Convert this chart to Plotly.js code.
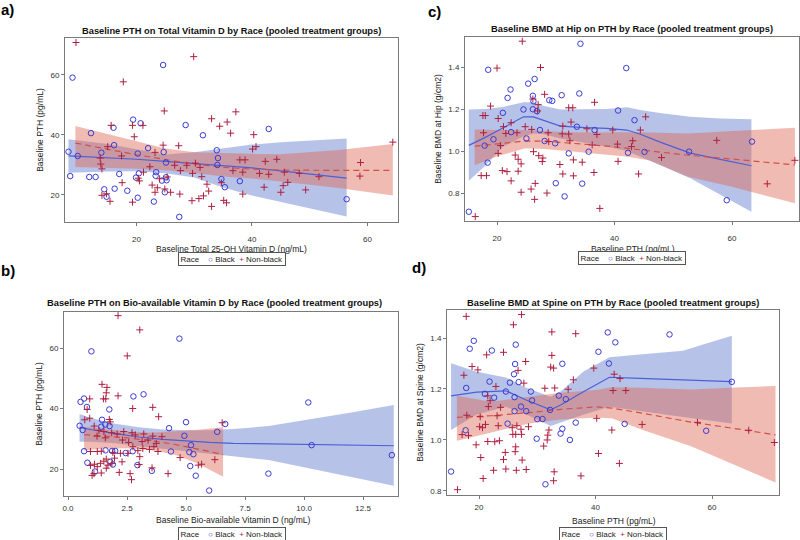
<!DOCTYPE html>
<html><head><meta charset="utf-8">
<script src="https://cdn.plot.ly/plotly-3.0.1.min.js"></script>
<style>html,body{margin:0;padding:0;background:#fff}#chart{width:800px;height:540px}</style>
</head><body><div id="chart"></div>
<script>
// ---------- Panel a: PTH vs Total 25-OH Vitamin D ----------
const aBlackX = [8.2,8.9,8.5,9.8,12.1,11.8,12.9,13.9,14.4,14.8,16.0,16.1,16.2,17.0,18.4,19.4,19.9,20.2,20.2,20.4,20.7,22.0,23.0,23.3,23.4,24.4,24.6,24.7,24.9,25.1,25.1,25.2,27.4,28.5,31.5,33.9,34.1,34.0,34.7,35.3,37.9,42.9,56.4];
const aBlackY = [34.4,59.1,26.3,33.0,40.6,26.0,26.0,34.1,21.9,19.4,42.4,36.6,22.1,27.0,21.4,45.1,25.8,19.1,33.8,27.2,43.9,35.6,17.8,26.4,27.6,24.8,63.3,34.3,20.9,30.8,25.9,24.9,12.7,43.3,39.9,34.9,32.3,30.0,25.3,22.6,24.6,42.0,18.6];
const aNonX = [9.5,17.7,29.9,24.8,37.2,33.0,35.7,15.6,19.3,21.1,34.4,36.3,19.6,40.3,40.7,24.6,27.3,15.0,23.2,17.4,28.7,31.0,30.2,37.9,38.8,42.3,44.3,40.1,13.8,14.0,21.2,26.6,27.6,29.7,31.3,36.7,38.4,41.3,42.9,45.6,48.2,51.6,58.8,58.7,64.4,17.5,20.5,22.7,23.2,24.9,25.9,27.5,29.6,30.8,31.6,32.2,32.5,33.0,35.1,35.6,38.4,34.7,42.1,45.0,45.4,46.2,49.3,14.0,14.8,15.4,19.3,22.3,24.0,25.3,23.6,20.3,13.7];
const aNonY = [70.8,57.7,66.1,48.0,47.7,45.4,44.3,43.2,43.2,43.2,42.9,40.6,39.4,40.1,36.1,36.6,36.4,36.1,34.2,33.0,29.9,29.2,30.6,31.7,31.7,31.2,31.9,35.3,30.3,28.7,27.6,29.9,28.1,27.2,26.1,28.1,27.6,27.2,26.9,27.6,27.2,26.1,30.8,26.3,37.6,24.1,24.7,23.3,20.9,22.0,20.9,20.3,18.1,18.8,19.7,23.6,21.3,16.2,18.2,17.4,20.3,24.1,22.6,20.9,23.1,24.2,21.7,19.9,20.4,17.9,17.6,29.4,25.4,26.0,22.4,25.6,32.3];
const aBlackFitX = [8.2,15,20,25,30,35,40,45,50,56.4];
const aBlackFit  = [33.0,32.5,31.9,31.2,30.5,29.9,29.0,28.0,26.9,25.6];
const aBlackUp   = [38.6,37.0,35.2,33.5,34.2,35.5,36.8,37.6,38.2,38.8];
const aBlackLo   = [27.4,27.8,27.9,27.2,25.8,22.5,19.8,17.7,15.5,12.8];
const aNonFitX = [9.4,15,20,25,30,35,40,45,50,55,64.4];
const aNonFit  = [37.3,35.2,33.4,31.8,30.3,29.2,28.6,28.3,28.2,28.2,28.2];
const aNonUp   = [43.0,40.3,37.8,35.5,34.2,33.9,33.7,33.6,34.2,35.0,37.0];
const aNonLo   = [29.3,29.0,28.7,28.2,27.3,26.2,25.5,24.5,23.5,22.3,19.8];

// ---------- Panel b: PTH vs Bio-available Vitamin D ----------
const bBlackX = [0.49,0.53,0.62,0.68,0.68,0.80,0.82,0.99,1.14,1.44,1.41,1.58,1.76,1.75,1.59,1.87,2.0,1.79,1.90,2.44,2.74,2.77,3.20,2.94,3.55,4.28,4.36,5.0,4.72,5.14,5.18,5.31,5.41,5.98,4.93,5.21,6.32,6.66,8.49,10.18,10.32,13.72];
const bBlackY = [34.3,42.2,32.9,43.3,25.9,40.5,22.1,58.9,19.2,36.3,34.0,34.7,34.2,39.7,26.2,26.0,26.0,22.4,21.5,25.3,25.9,44.0,44.7,21.3,19.4,33.5,25.8,35.5,63.1,25.6,21.0,24.9,17.8,12.9,31.0,27.9,32.3,34.9,18.5,42.0,27.9,24.6];
const bNonX = [2.12,3.04,2.51,1.44,1.65,1.62,1.5,1.6,0.92,2.12,0.81,2.74,3.59,3.84,1.75,1.79,0.92,0.71,6.53,1.11,1.31,1.52,1.85,2.08,2.36,2.71,2.85,3.21,3.59,3.98,3.39,3.14,3.74,1.23,1.58,2.31,2.57,0.95,1.24,1.41,1.90,1.62,1.97,2.22,2.54,2.75,2.96,3.17,3.45,3.64,3.81,0.95,1.12,1.24,1.38,1.52,1.02,1.41,1.10,1.62,1.69,2.17,2.63,2.69,3.04,3.01,3.56,4.24,4.75,5.52,5.66,6.22,2.29,1.86];
const bNonY = [70.7,66.0,57.4,48.0,47.0,45.2,43.2,43.2,43.2,44.2,39.7,40.0,40.4,37.3,36.4,35.6,36.8,36.3,35.3,34.2,32.8,32.4,32.0,31.6,32.4,32.0,31.3,31.6,30.9,30.7,29.6,29.1,28.5,30.9,30.3,29.6,28.8,25.8,25.8,25.9,25.5,23.3,23.6,25.2,25.2,27.4,26.1,26.8,26.5,27.4,25.8,21.2,21.6,20.8,21.9,22.6,17.9,18.7,18.5,20.3,21.3,18.9,18.5,16.5,24.1,21.5,20.4,18.5,23.8,21.3,21.6,23.1,22.4,21.8];
const bBlackFitX = [0.49,1,2,3,4,5,6,7,8.5,10.2,12,13.8];
const bBlackFit  = [33.8,33.0,31.7,30.6,29.8,29.2,28.8,28.5,28.3,28.1,27.9,27.7];
const bBlackUp   = [38.2,36.8,35.0,33.8,33.1,32.8,32.8,33.2,34.2,36.3,38.7,41.2];
const bBlackLo   = [29.0,29.0,28.5,27.5,26.5,25.7,25.0,24.2,23.0,20.2,17.4,14.5];
const bNonFitX = [0.68,1.5,2.5,3.5,4.5,5.5,6.57];
const bNonFit  = [31.4,31.0,30.3,29.4,28.2,26.6,24.8];
const bNonUp   = [34.0,33.3,32.4,32.0,32.4,33.0,33.8];
const bNonLo   = [26.1,26.8,26.9,26.3,24.8,21.8,17.5];

// ---------- Panel c: BMD at Hip vs PTH ----------
const cBlackX = [15.2,18.5,17.9,18.4,19.4,22.3,21.8,21.0,22.4,24.5,25.3,25.0,26.1,26.1,26.4,26.2,26.8,27.3,28.9,29.4,28.1,30.0,29.9,31.0,31.5,32.2,33.6,34.0,34.2,34.5,35.6,36.6,40.6,42.0,42.3,43.4,45.1,52.7,59.1,63.4];
const cBlackY = [0.711,1.387,1.026,0.945,1.056,1.293,1.253,1.182,1.090,1.198,1.321,1.060,1.263,1.199,1.343,1.237,1.190,1.100,1.242,1.239,1.048,0.847,1.037,1.266,0.784,0.989,1.116,1.274,1.511,0.845,0.997,1.100,1.193,1.395,0.992,1.147,0.996,0.997,0.766,1.045];
const cNonX = [24.3,20.0,27.4,18.9,17.6,18.0,20.2,21.1,22.4,21.5,17.7,23.4,25.9,27.0,28.1,26.1,26.9,32.2,32.9,36.6,32.6,31.2,31.1,32.2,37.0,39.7,44.4,45.3,43.1,40.5,42.9,40.6,48.0,57.4,70.7,66.0,44.1,36.5,34.5,33.0,30.7,31.2,33.0,37.5,28.5,26.4,26.5,25.8,24.1,23.6,23.1,24.1,23.6,22.4,21.7,20.9,20.2,20.6,17.3,18.2,16.3,26.2,27.1,27.7,27.8,28.7,24.8,35.3,36.2,28.8,32.4];
const cNonY = [1.523,1.395,1.398,1.214,1.169,1.169,1.155,1.116,1.135,1.084,1.087,1.087,1.103,1.221,1.270,1.248,1.191,1.206,1.206,1.232,1.138,1.119,1.082,1.081,1.079,1.100,1.100,1.163,1.049,1.033,1.021,0.951,0.969,1.051,0.956,0.844,0.891,0.898,0.947,0.958,0.936,0.891,0.882,0.727,0.800,0.770,0.846,0.819,0.804,0.961,0.981,0.939,0.904,0.858,0.902,0.907,0.989,1.026,0.883,0.883,0.688,0.997,0.978,0.950,0.967,1.087,1.116,1.106,1.029,1.045,1.049];
const cBlackFitX = [15.2,18,21,24.5,26.2,28,30.8,35,38.7,42.1,44.4,48,52.9,58,63.3];
const cBlackFit  = [1.027,1.065,1.11,1.163,1.163,1.145,1.119,1.112,1.108,1.10,1.08,1.04,0.99,0.96,0.930];
const cBlackUp   = [1.198,1.20,1.21,1.232,1.232,1.215,1.198,1.198,1.20,1.208,1.195,1.18,1.163,1.155,1.151];
const cBlackLo   = [0.859,0.93,1.02,1.07,1.084,1.08,1.06,1.04,1.02,1.00,0.975,0.93,0.87,0.79,0.711];
const cNonFitX = [16.2,20,24.8,28,32,36,40,42.3,46,52.5,60,70.7];
const cNonFit  = [1.023,1.034,1.048,1.047,1.04,1.03,1.02,1.013,1.0,0.98,0.962,0.934];
const cNonUp   = [1.103,1.10,1.10,1.095,1.09,1.088,1.09,1.09,1.088,1.084,1.095,1.111];
const cNonLo   = [0.932,0.975,1.013,1.01,1.0,0.99,0.98,0.973,0.955,0.878,0.83,0.751];

// ---------- Panel d: BMD at Spine vs PTH ----------
const dBlackX = [15.2,17.7,17.8,18.4,19.1,21.0,21.8,22.2,22.6,24.6,24.9,25.3,26.0,26.2,26.3,26.1,26.1,26.8,27.2,28.1,28.9,29.1,29.9,30.0,30.9,31.4,32.2,33.7,34.0,34.3,34.3,34.9,35.6,36.6,40.5,42.1,42.3,43.4,45.0,52.7,59.0,63.4];
const dBlackY = [0.876,1.038,1.204,1.358,1.389,1.181,1.229,1.351,1.166,1.190,1.064,1.225,1.258,1.298,1.374,1.168,1.113,1.227,1.131,1.113,1.190,1.155,1.005,1.082,1.082,0.826,1.118,1.174,1.025,1.299,1.044,1.160,1.000,1.068,1.346,1.422,1.300,1.383,1.063,1.414,1.036,1.228];
const dNonX = [17.8,27.3,25.9,32.5,36.6,24.2,21.3,28.0,32.5,32.3,32.8,39.7,17.4,18.8,19.8,26.7,27.7,22.9,21.5,21.9,36.2,35.3,43.2,44.2,43.0,45.2,33.0,17.9,20.2,21.6,23.1,23.7,20.1,20.6,21.1,23.3,25.7,26.5,27.2,25.8,26.3,27.3,17.1,18.2,19.5,21.5,22.7,23.5,20.3,24.2,24.5,26.2,26.3,27.4,28.1,26.4,24.6,22.5,20.7,16.3,31.1,31.7,31.8,32.0,32.9,32.8,37.5,40.5,40.2,42.8,44.1,48.0,57.5,66.3,70.7,28.5,31.3];
const dNonY = [1.485,1.492,1.452,1.424,1.417,1.344,1.334,1.308,1.332,1.286,1.282,1.282,1.254,1.288,1.275,1.273,1.223,1.210,1.173,1.154,1.236,1.199,1.258,1.241,1.194,1.194,1.204,1.097,1.091,1.131,1.095,1.128,1.052,1.048,1.061,1.056,1.048,1.056,1.042,1.022,1.022,1.022,1.021,1.017,0.981,0.994,0.993,0.997,0.931,0.923,0.951,0.954,0.973,0.921,0.884,0.881,0.886,0.881,0.849,0.805,0.976,1.000,1.019,1.039,0.875,0.840,0.859,0.947,1.085,1.039,0.908,1.061,1.069,1.038,0.990,1.052,1.203];
const dBlackFitX = [15.2,19.6,24.6,28.1,32.3,34,38,42.4,47.6,55,63.4];
const dBlackFit  = [1.173,1.188,1.193,1.157,1.118,1.137,1.19,1.246,1.242,1.236,1.229];
const dBlackUp   = [1.301,1.268,1.245,1.205,1.17,1.19,1.27,1.325,1.335,1.35,1.409];
const dBlackLo   = [1.039,1.10,1.13,1.10,1.055,1.07,1.10,1.13,1.115,1.09,1.065];
const dNonFitX = [16.2,22,28.6,34,40.1,42.8,48,56.4,63,70.9];
const dNonFit  = [1.089,1.095,1.107,1.12,1.13,1.125,1.105,1.07,1.048,1.02];
const dNonUp   = [1.173,1.15,1.17,1.185,1.196,1.207,1.205,1.198,1.205,1.212];
const dNonLo   = [0.997,1.03,1.065,1.08,1.088,1.085,1.04,0.975,0.91,0.833];

// ---------- Text ----------
const titles = {
  a: 'Baseline PTH on Total Vitamin D by Race (pooled treatment groups)',
  b: 'Baseline PTH on Bio-available Vitamin D by Race (pooled treatment groups)',
  c: 'Baseline BMD at Hip on PTH by Race (pooled treatment groups)',
  d: 'Baseline BMD at Spine on PTH by Race (pooled treatment groups)'
};
const xTitles = {a:'Baseline Total 25-OH Vitamin D (ng/mL)', b:'Baseline Bio-available Vitamin D (ng/mL)', c:'Baseline PTH (pg/mL)', d:'Baseline PTH (pg/mL)'};
const yTitles = {a:'Baseline PTH (pg/mL)', b:'Baseline PTH (pg/mL)', c:'Baseline BMD at Hip (g/cm2)', d:'Baseline BMD at Spine (g/cm2)'};
const groupNames = ['Black','Non-black'];
const legendTitle = 'Race';

// ---------- Styles ----------
const FONT = 'Liberation Sans, Arial, sans-serif';
const BLUE_PT = '#3a3ad4', RED_PT = '#ad1f3f';
const BLUE_LINE = '#4d5fd8', RED_LINE = '#d0504a';
const BLUE_BAND = 'rgba(80,110,200,0.42)', RED_BAND = 'rgba(222,105,85,0.45)';

const traces = [];
function band(xs, up, lo, color, xa, ya) {
  traces.push({x: xs.concat(xs.slice().reverse()), y: up.concat(lo.slice().reverse()),
    type:'scatter', mode:'lines', fill:'toself', fillcolor: color, line:{width:0},
    xaxis:xa, yaxis:ya, showlegend:false, hoverinfo:'skip'});
}
function fit(xs, ys, color, dash, xa, ya) {
  traces.push({x: xs, y: ys, type:'scatter', mode:'lines', line:{color, width:1.2, dash, shape:'linear'},
    xaxis:xa, yaxis:ya, showlegend:false, hoverinfo:'skip'});
}
function pts(xs, ys, isBlack, xa, ya) {
  traces.push({x: xs, y: ys, type:'scatter', mode:'markers', name: isBlack ? groupNames[0] : groupNames[1],
    marker: isBlack ? {symbol:'circle-open', size:5.5, color:BLUE_PT, line:{width:1, color:BLUE_PT}}
                    : {symbol:'cross-thin-open', size:5, color:RED_PT, line:{width:1, color:RED_PT}},
    xaxis:xa, yaxis:ya, showlegend:false});
}
function panel(p, xa, ya) {
  band(p.bfx, p.bup, p.blo, BLUE_BAND, xa, ya);
  band(p.nfx, p.nup, p.nlo, RED_BAND, xa, ya);
  fit(p.bfx, p.bfit, BLUE_LINE, 'solid', xa, ya);
  fit(p.nfx, p.nfit, RED_LINE, '6px,4px', xa, ya);
  pts(p.bx, p.by, true, xa, ya);
  pts(p.nx, p.ny, false, xa, ya);
}
panel({bfx:aBlackFitX,bfit:aBlackFit,bup:aBlackUp,blo:aBlackLo,nfx:aNonFitX,nfit:aNonFit,nup:aNonUp,nlo:aNonLo,bx:aBlackX,by:aBlackY,nx:aNonX,ny:aNonY},'x','y');
panel({bfx:cBlackFitX,bfit:cBlackFit,bup:cBlackUp,blo:cBlackLo,nfx:cNonFitX,nfit:cNonFit,nup:cNonUp,nlo:cNonLo,bx:cBlackX,by:cBlackY,nx:cNonX,ny:cNonY},'x2','y2');
panel({bfx:bBlackFitX,bfit:bBlackFit,bup:bBlackUp,blo:bBlackLo,nfx:bNonFitX,nfit:bNonFit,nup:bNonUp,nlo:bNonLo,bx:bBlackX,by:bBlackY,nx:bNonX,ny:bNonY},'x3','y3');
panel({bfx:dBlackFitX,bfit:dBlackFit,bup:dBlackUp,blo:dBlackLo,nfx:dNonFitX,nfit:dNonFit,nup:dNonUp,nlo:dNonLo,bx:dBlackX,by:dBlackY,nx:dNonX,ny:dNonY},'x4','y4');

function ax(domain, range, tickvals, title, fmt, isX, anchor, standoff) {
  const o = {domain, range, tickvals, anchor, showline:true, mirror:true, linecolor:'#7a7a7a', linewidth:1,
    ticks:'outside', ticklen:3, tickcolor:'#7a7a7a', showgrid:false, zeroline:false,
    tickfont:{family:FONT, size:8, color:'#333'}};
  if (fmt) o.tickformat = fmt;
  if (isX) { o.ticklabelstandoff = standoff; }
  else { o.title = {text:title, font:{family:FONT, size:8.5, color:'#222'}, standoff:5}; }
  return o;
}
const H = 540, W = 800;
const py = v => 1 - v / H, px = v => v / W;

const legendText = legendTitle + '&nbsp;&nbsp;&nbsp;&nbsp;<span style="color:' + BLUE_PT + '">○</span>&nbsp;' + groupNames[0] +
  '&nbsp;&nbsp;<span style="color:' + RED_PT + '">+</span>&nbsp;' + groupNames[1];
function legendAnn(cx, cy) {
  return {xref:'paper', yref:'paper', x:px(cx), y:py(cy), xanchor:'center', yanchor:'middle', showarrow:false,
    text: legendText, font:{family:FONT, size:8, color:'#222'}, bordercolor:'#555', borderwidth:1, borderpad:1.5, bgcolor:'#fff'};
}
function titleAnn(txt, cx, cy) {
  return {xref:'paper', yref:'paper', x:px(cx), y:py(cy), xanchor:'center', yanchor:'middle', showarrow:false,
    text:'<b>' + txt + '</b>', font:{family:FONT, size:9.3, color:'#111'}};
}
function xTitleAnn(txt, cx, cy) {
  return {xref:'paper', yref:'paper', x:px(cx), y:py(cy), xanchor:'center', yanchor:'middle', showarrow:false,
    text: txt, font:{family:FONT, size:8.5, color:'#222'}};
}
function labelAnn(txt, lx, cy) {
  return {xref:'paper', yref:'paper', x:px(lx), y:py(cy), xanchor:'left', yanchor:'middle', showarrow:false,
    text:'<b>' + txt + '</b>', font:{family:FONT, size:15, color:'#000'}};
}

const layout = {
  width: W, height: H, margin:{l:0, r:0, t:0, b:0}, paper_bgcolor:'#fff', plot_bgcolor:'#fff',
  showlegend:false, font:{family:FONT},
  xaxis:  ax([px(65), px(398)], [7.6, 65.3], [20,40,60], xTitles.a, null, true, 'y', 6),
  yaxis:  ax([py(222), py(38)], [11, 72.3], [20,40,60], yTitles.a, null, false, 'x'),
  xaxis2: ax([px(465), px(799)], [14.55, 71.4], [20,40,60], xTitles.c, null, true, 'y2', 6),
  yaxis2: ax([py(221), py(37)], [0.667, 1.543], [0.8,1.0,1.2,1.4], yTitles.c, '.1f', false, 'x2'),
  xaxis3: ax([px(64), px(398)], [-0.17, 13.98], [0,2.5,5,7.5,10,12.5], xTitles.b, '.1f', true, 'y3', 1),
  yaxis3: ax([py(496), py(312)], [11.1, 71.9], [20,40,60], yTitles.b, null, false, 'x3'),
  xaxis4: ax([px(447), px(779)], [14.5, 71.5], [20,40,60], xTitles.d, null, true, 'y4', 1),
  yaxis4: ax([py(495), py(310)], [0.784, 1.51], [0.8,1.0,1.2,1.4], yTitles.d, '.1f', false, 'x4'),
  annotations: [
    titleAnn(titles.a, 231.5, 31), titleAnn(titles.c, 632, 29),
    titleAnn(titles.b, 214, 303), titleAnn(titles.d, 612.5, 303),
    xTitleAnn(xTitles.a, 231, 249), xTitleAnn(xTitles.c, 633, 249),
    xTitleAnn(xTitles.b, 233, 520), xTitleAnn(xTitles.d, 614, 521),
    legendAnn(232, 259), legendAnn(632, 258.5), legendAnn(231.5, 533.5), legendAnn(613, 534),
    labelAnn('a)', -1, 9), labelAnn('c)', 426, 11), labelAnn('b)', -1, 270), labelAnn('d)', 410, 268)
  ]
};
Plotly.newPlot('chart', traces, layout, {staticPlot:true, displayModeBar:false});
</script></body></html>
